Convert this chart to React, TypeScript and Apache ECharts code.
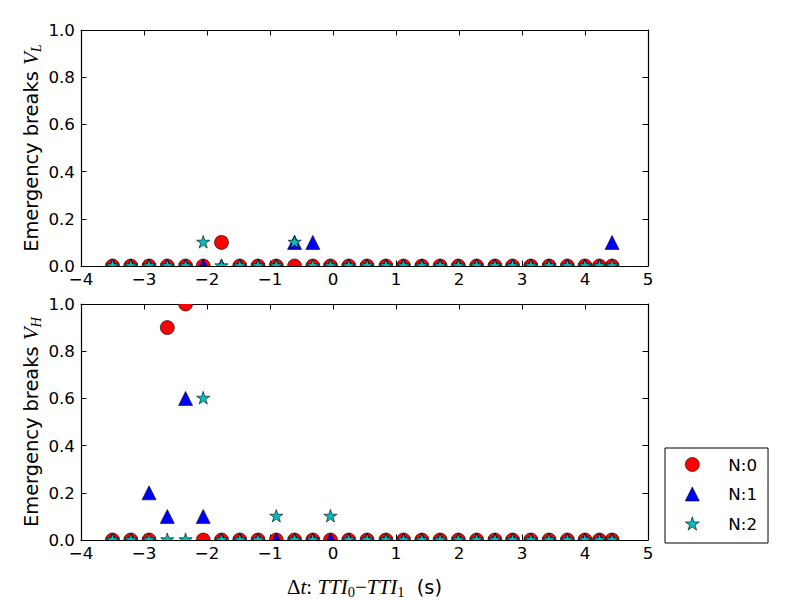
import React, { useEffect, useRef } from "react";
import * as echarts from "echarts";

// ---- data ----
const X_VALUES = [
  -3.5, -3.21, -2.92, -2.63, -2.34, -2.06, -1.77, -1.48, -1.19, -0.9,
  -0.61, -0.32, -0.04, 0.25, 0.54, 0.84, 1.12, 1.41, 1.7, 1.99,
  2.28, 2.57, 2.85, 3.14, 3.43, 3.72, 4.0, 4.23, 4.43,
];
const SERIES_NAMES = ["N:0", "N:1", "N:2"];

// Top panel: V_L
const TOP_N0 = [0, 0, 0, 0, 0, 0, 0.1, 0, 0, 0, 0, 0, 0, 0, 0, 0, 0, 0, 0, 0, 0, 0, 0, 0, 0, 0, 0, 0, 0];
const TOP_N1 = [0, 0, 0, 0, 0, 0, 0, 0, 0, 0, 0.1, 0.1, 0, 0, 0, 0, 0, 0, 0, 0, 0, 0, 0, 0, 0, 0, 0, 0, 0.1];
const TOP_N2 = [0, 0, 0, 0, 0, 0.1, 0, 0, 0, 0, 0.1, 0, 0, 0, 0, 0, 0, 0, 0, 0, 0, 0, 0, 0, 0, 0, 0, 0, 0];

// Bottom panel: V_H
const BOT_N0 = [0, 0, 0, 0.9, 1.0, 0, 0, 0, 0, 0, 0, 0, 0, 0, 0, 0, 0, 0, 0, 0, 0, 0, 0, 0, 0, 0, 0, 0, 0];
const BOT_N1 = [0, 0, 0.2, 0.1, 0.6, 0.1, 0, 0, 0, 0, 0, 0, 0, 0, 0, 0, 0, 0, 0, 0, 0, 0, 0, 0, 0, 0, 0, 0, 0];
const BOT_N2 = [0, 0, 0, 0, 0, 0.6, 0, 0, 0, 0.1, 0, 0, 0.1, 0, 0, 0, 0, 0, 0, 0, 0, 0, 0, 0, 0, 0, 0, 0, 0];

const X_TICKS = { min: -4, max: 5, interval: 1 };
const Y_TICKS = { min: 0, max: 1, interval: 0.2 };

// ---- styling ----
const SANS = "DejaVu Sans";
const SERIF = "Liberation Serif";
const FS = 16.7;
const FS_LABEL = 19.4;
const COLORS = ["#ff0000", "#0000ff", "#00bfbf"];
const KINDS = ["circle", "triangle", "star"];
const R = 7;

const STAR_PATH = (() => {
  const pts: string[] = [];
  for (let k = 0; k < 10; k++) {
    const r = k % 2 === 0 ? 1 : 0.381966;
    const a = -Math.PI / 2 + (k * Math.PI) / 5;
    pts.push(`${(r * Math.cos(a)).toFixed(4)},${(r * Math.sin(a)).toFixed(4)}`);
  }
  return "path://M" + pts.join("L") + "Z";
})();

function markerRenderer(kind: string, color: string) {
  return (_params: any, api: any) => {
    const p = api.coord([api.value(0), api.value(1)]);
    const cx = p[0];
    const cy = p[1];
    const style = { fill: color, stroke: "#000", lineWidth: 0.6 };
    if (kind === "circle") {
      return { type: "circle", shape: { cx, cy, r: R }, style };
    }
    if (kind === "triangle") {
      return {
        type: "polygon",
        shape: { points: [[cx, cy - R], [cx - R, cy + R], [cx + R, cy + R]] },
        style,
      };
    }
    const pts: number[][] = [];
    for (let k = 0; k < 10; k++) {
      const r = k % 2 === 0 ? R : R * 0.381966;
      const a = -Math.PI / 2 + (k * Math.PI) / 5;
      pts.push([cx + r * Math.cos(a), cy + r * Math.sin(a)]);
    }
    return { type: "polygon", shape: { points: pts }, style };
  };
}

const fmtX = (v: number) => String(Math.round(v)).replace("-", "\u2212");
const fmtY = (v: number) => v.toFixed(1);

const mathRich = {
  t: { fontFamily: SANS, fontSize: FS_LABEL, lineHeight: 24, color: "#000" },
  n: { fontFamily: SANS, fontSize: FS_LABEL, lineHeight: 24, color: "#000" },
  d: { fontFamily: SERIF, fontSize: 21, lineHeight: 24, color: "#000" },
  u: { fontFamily: SERIF, fontSize: 21, lineHeight: 24, color: "#000" },
  i: { fontFamily: SERIF, fontSize: 21, fontStyle: "italic", lineHeight: 24, color: "#000" },
  s: { fontFamily: SERIF, fontSize: 14.5, lineHeight: 13, verticalAlign: "bottom", color: "#000" },
  si: { fontFamily: SERIF, fontSize: 14.5, fontStyle: "italic", lineHeight: 13, verticalAlign: "bottom", color: "#000" },
};

function xAxes(gridIndex: number, withName: boolean) {
  const common = {
    gridIndex,
    type: "value",
    ...X_TICKS,
    splitLine: { show: false },
    axisLine: { show: true, onZero: false, lineStyle: { color: "#000", width: 1.2 } },
    axisTick: { show: true, inside: true, length: 5.5, lineStyle: { color: "#000", width: 1 } },
  };
  return [
    {
      ...common,
      position: "bottom",
      axisLabel: {
        show: true,
        formatter: fmtX,
        fontFamily: SANS,
        fontSize: FS,
        color: "#000",
        margin: 4,
        showMinLabel: true,
        showMaxLabel: true,
      },
      ...(withName
        ? {
            name: "{d|\u0394}{i|t}{u|: }{i|TTI}{s|0}{u|\u2212}{i|TTI}{s|1}{n|  (s)}",
            nameLocation: "middle",
            nameGap: 35,
            nameMoveOverlap: false,
            nameTextStyle: { rich: mathRich },
          }
        : {}),
    },
    { ...common, position: "top", axisLabel: { show: false } },
  ];
}

function yAxes(gridIndex: number, sub: string) {
  const common = {
    gridIndex,
    type: "value",
    ...Y_TICKS,
    splitLine: { show: false },
    axisLine: { show: true, onZero: false, lineStyle: { color: "#000", width: 1.2 } },
    axisTick: { show: true, inside: true, length: 5.5, lineStyle: { color: "#000", width: 1 } },
  };
  return [
    {
      ...common,
      position: "left",
      axisLabel: {
        show: true,
        formatter: fmtY,
        fontFamily: SANS,
        fontSize: FS,
        color: "#000",
        margin: 6,
        showMinLabel: true,
        showMaxLabel: true,
      },
      name: `{t|Emergency breaks }{i|V}{si|${sub}}`,
      nameLocation: "middle",
      nameRotate: 90,
      nameGap: 38,
      nameMoveOverlap: false,
      nameTextStyle: { rich: mathRich },
    },
    { ...common, position: "right", axisLabel: { show: false } },
  ];
}

function panelSeries(gridIdx: number, values: number[][]) {
  return values.map((vals, s) => ({
    name: SERIES_NAMES[s],
    type: "custom",
    xAxisIndex: gridIdx * 2,
    yAxisIndex: gridIdx * 2,
    clip: true,
    encode: { x: 0, y: 1 },
    itemStyle: { color: COLORS[s], borderColor: "#000", borderWidth: 0.6 },
    renderItem: markerRenderer(KINDS[s], COLORS[s]),
    data: X_VALUES.map((x, i) => [x, vals[i]]),
  }));
}

export default function App() {
  const ref = useRef<HTMLDivElement>(null);
  useEffect(() => {
    if (!ref.current) return;
    const chart = echarts.init(ref.current, null, { renderer: "svg" });
    chart.setOption({
      animation: false,
      backgroundColor: "#fff",
      grid: [
        { left: 81, top: 30, width: 567, height: 236 },
        { left: 81, top: 304, width: 567, height: 236 },
      ],
      xAxis: [...xAxes(0, false), ...xAxes(1, true)],
      yAxis: [...yAxes(0, "L"), ...yAxes(1, "H")],
      legend: {
        orient: "vertical",
        left: 665,
        top: 448,
        padding: [8, 11, 11, 20],
        itemWidth: 14,
        itemHeight: 14,
        itemGap: 12.5,
        borderColor: "#000",
        borderWidth: 1,
        selectedMode: false,
        itemStyle: { borderColor: "#000", borderWidth: 0.6 },
        textStyle: {
          fontFamily: SANS,
          fontSize: FS,
          color: "#000",
          lineHeight: 16,
          padding: [0, 0, 0, 24],
        },
        data: [
          { name: SERIES_NAMES[0], icon: "circle" },
          { name: SERIES_NAMES[1], icon: "triangle" },
          { name: SERIES_NAMES[2], icon: STAR_PATH },
        ],
      },
      series: [
        ...panelSeries(0, [TOP_N0, TOP_N1, TOP_N2]),
        ...panelSeries(1, [BOT_N0, BOT_N1, BOT_N2]),
      ],
    });
    return () => chart.dispose();
  }, []);
  return (
    <div
      ref={ref}
      style={{ position: "fixed", left: 0, top: 0, width: 800, height: 600, background: "#fff" }}
    />
  );
}
